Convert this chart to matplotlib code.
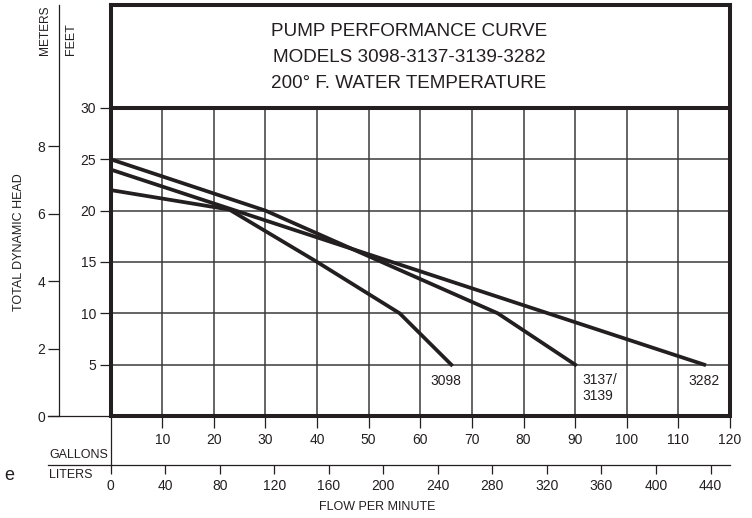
import matplotlib
matplotlib.use('Agg')
import matplotlib.pyplot as plt

# pump curves: flow (US gallons per minute) vs total dynamic head (feet)
gpm_3098 = [0, 23, 40, 56, 66]
head_3098 = [22, 20.1, 15, 10, 5]
gpm_3137 = [0, 30, 75, 90]
head_3137 = [25, 20, 10, 5]
gpm_3282 = [0, 115]
head_3282 = [24, 5]

gallon_ticks = list(range(10, 130, 10))
liter_ticks = list(range(0, 480, 40))
feet_ticks = [5, 10, 15, 20, 25, 30]
meter_ticks = [0, 2, 4, 6, 8]
title_lines = ['PUMP PERFORMANCE CURVE', 'MODELS 3098-3137-3139-3282',
               '200\u00b0 F. WATER TEMPERATURE']

L_PER_GAL = 3.78541
FT_PER_M = 3.28084

plt.rcParams['font.family'] = ['Liberation Sans', 'DejaVu Sans']
INK = '#231f20'
W, H = 752, 518


def px(x, y):
    return x / W, 1 - y / H


fig = plt.figure(figsize=(W / 100, H / 100), dpi=100)
ax = fig.add_axes([110.6 / W, (H - 416) / H, 619.4 / W, 411 / H])
ax.set_xlim(0, 120)
ax.set_ylim(0, 40.02)

for s in ax.spines.values():
    s.set_linewidth(2.9)
    s.set_color(INK)

# grid only inside the chart area (below 30 ft)
ax.vlines(gallon_ticks[:-1], 0, 30, color='#3a3a3a', lw=1.1, zorder=1)
for h in feet_ticks[:-1]:
    ax.axhline(h, color='#3a3a3a', lw=1.1, zorder=1)
ax.axhline(30, color=INK, lw=2.9, zorder=3)

for g, h in [(gpm_3098, head_3098), (gpm_3137, head_3137), (gpm_3282, head_3282)]:
    ax.plot(g, h, color=INK, lw=2.7, solid_joinstyle='miter', zorder=4)

lab = dict(fontsize=10, color=INK)
ax.text(65, 3.4, '3098', ha='center', va='center', **lab)
ax.text(91.4, 2.7, '3137/\n3139', ha='left', va='center', linespacing=1.15, **lab)
ax.text(115, 3.4, '3282', ha='center', va='center', **lab)

for i, t in enumerate(title_lines):
    ax.text(57.8, 37.4 - i * 2.53, t, ha='center', va='center', fontsize=13.6, color=INK)

# feet axis (main left) and gallons axis (main bottom)
ax.set_yticks(feet_ticks)
ax.set_xticks(gallon_ticks)
ax.tick_params(axis='y', direction='out', length=8, width=0.9, pad=2.5,
               labelsize=10, colors=INK)
ax.tick_params(axis='x', direction='out', length=8.6, width=0.9, pad=3.5,
               labelsize=10, colors=INK)

# meters axis
sec_y = ax.secondary_yaxis(-0.0833, functions=(lambda f: f / FT_PER_M, lambda m: m * FT_PER_M))
sec_y.set_yticks(meter_ticks)
sec_y.spines['left'].set_linewidth(0.9)
sec_y.spines['left'].set_color(INK)
sec_y.tick_params(direction='out', length=8, width=0.9, pad=2, labelsize=10, colors=INK)

# liters axis
sec_x = ax.secondary_xaxis(-0.1192, functions=(lambda g: g * L_PER_GAL, lambda l: l / L_PER_GAL))
sec_x.set_xticks(liter_ticks)
sec_x.spines['bottom'].set_linewidth(0.9)
sec_x.spines['bottom'].set_color(INK)
sec_x.tick_params(direction='out', length=6.5, width=0.9, pad=3.5, labelsize=10, colors=INK)

# connector lines
ax.plot([-0.101, 0], [0, 0], transform=ax.transAxes, color=INK, lw=0.9, clip_on=False)
ax.plot([-0.101, 0], [-0.1192, -0.1192], transform=ax.transAxes, color=INK, lw=0.9, clip_on=False)
ax.plot([0, 0], [0, -0.1192], transform=ax.transAxes, color=INK, lw=0.9, clip_on=False)

txt = dict(color=INK, transform=fig.transFigure, fontsize=9)
fig.text(*px(19.5, 242), 'TOTAL DYNAMIC HEAD', rotation=90, ha='center', va='center', **txt)
fig.text(*px(45, 55), 'METERS', rotation=90, ha='center', va='bottom', color=INK,
         transform=fig.transFigure, fontsize=8.6)
fig.text(*px(71, 55), 'FEET', rotation=90, ha='center', va='bottom', **txt)
fig.text(*px(49, 455), 'GALLONS', ha='left', va='center', **txt)
fig.text(*px(49, 475), 'LITERS', ha='left', va='center', **txt)
fig.text(*px(319, 507), 'FLOW PER MINUTE', ha='left', va='center', **txt)
fig.text(*px(4, 476), 'e', ha='left', va='center', color=INK, fontsize=13)

fig.savefig('out.png', dpi=100)
